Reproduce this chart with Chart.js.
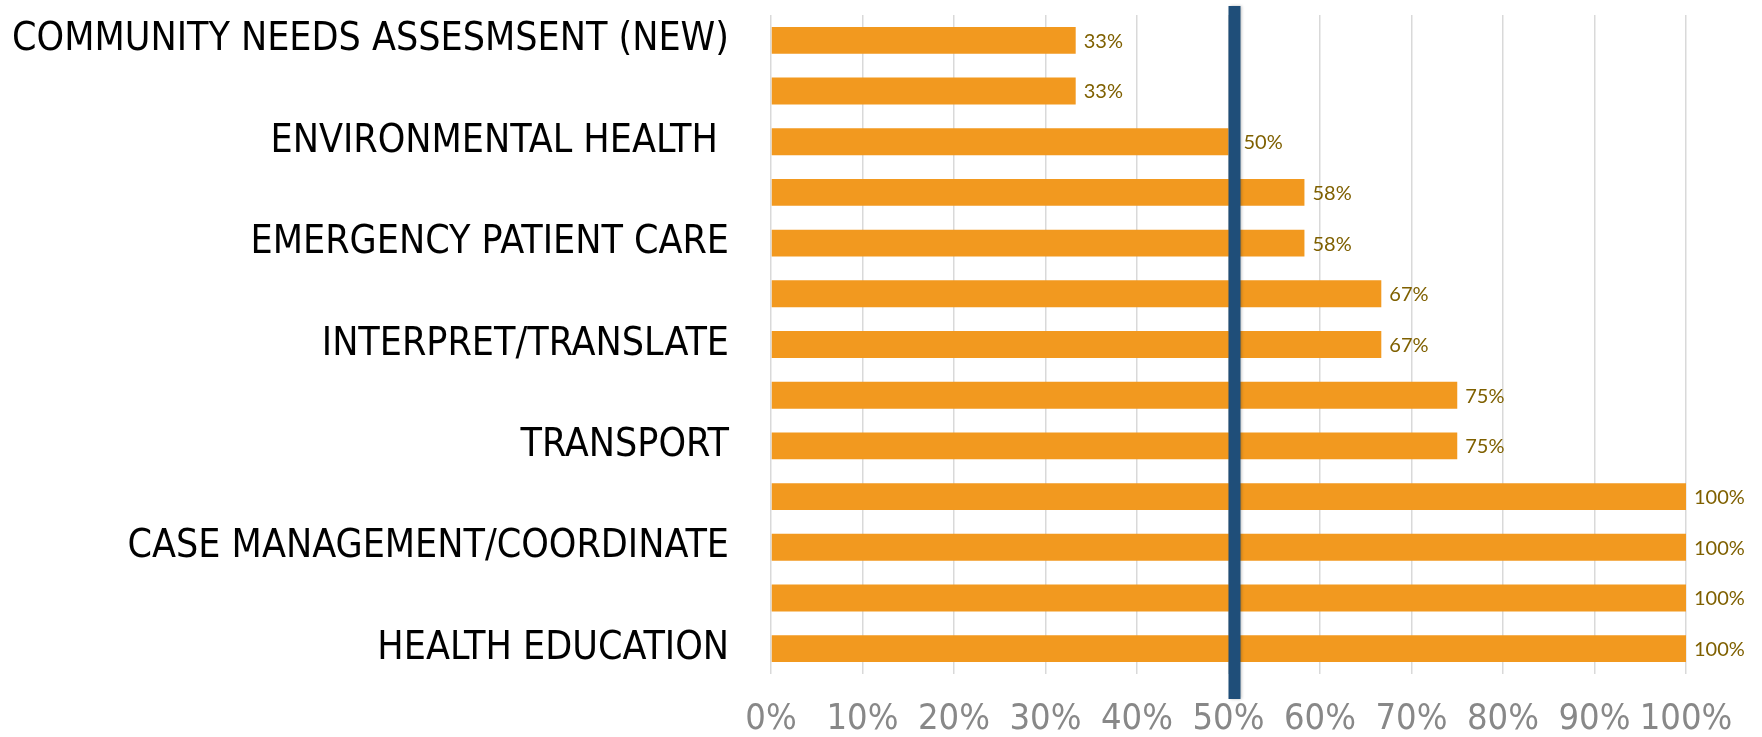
<!DOCTYPE html>
<html>
<head>
<meta charset="utf-8">
<script src="https://cdn.jsdelivr.net/npm/chart.js@4"></script>
<style>
   html, body { margin: 0; padding: 0; background: #ffffff; }
   #wrap { width: 1762px; height: 737px; }
</style>
</head>
<body>
<div id="wrap"><canvas id="serviceChart"></canvas></div>
<script>
// #region Data
// only every other category name is printed on the axis
const categories = [
   'COMMUNITY NEEDS ASSESMSENT (NEW)', '',
   'ENVIRONMENTAL HEALTH ', '',
   'EMERGENCY PATIENT CARE', '',
   'INTERPRET/TRANSLATE', '',
   'TRANSPORT', '',
   'CASE MANAGEMENT/COORDINATE', '',
   'HEALTH EDUCATION'
];
const percentValues = [33.3, 33.3, 50, 58.3, 58.3, 66.7, 66.7, 75, 75, 100, 100, 100, 100];
const xTickValues = [0, 10, 20, 30, 40, 50, 60, 70, 80, 90, 100];
const targetValue = 50;
// #endregion

const labelFont = "'Liberation Sans Narrow', 'DejaVu Sans Condensed', 'Arial Narrow', sans-serif";
const targetWidth = 12;

// ***********************
// Name:    valueLabels
// Purpose: writes the percent next to the end of every bar
// *************************
const valueLabels = {
   id: 'valueLabels',
   afterDatasetsDraw(chart) {
      const ctx = chart.ctx;
      const meta = chart.getDatasetMeta(0);
      const lineX = chart.scales.x.getPixelForValue(targetValue);
      ctx.save();
      ctx.font = '20px Lato, sans-serif';
      ctx.fillStyle = '#7f6000';
      ctx.textAlign = 'left';
      ctx.textBaseline = 'middle';
      meta.data.forEach(function (bar, i) {
         let x = bar.x + 8;
         // keep the label clear of the blue marker
         if (bar.x >= lineX - 2 && x < lineX + targetWidth + 3) {
            x = lineX + targetWidth + 3;
         }
         ctx.fillText(Math.round(percentValues[i]) + '%', x, bar.y + 1);
      });
      ctx.restore();
   }
};

// ***********************
// Name:    targetLine
// Purpose: draws the thick blue 50% marker over the bars
// *************************
const targetLine = {
   id: 'targetLine',
   afterDraw(chart) {
      const ctx = chart.ctx;
      const area = chart.chartArea;
      const x = chart.scales.x.getPixelForValue(targetValue);
      ctx.save();
      ctx.shadowColor = 'rgba(0,0,0,0.25)';
      ctx.shadowBlur = 3;
      ctx.shadowOffsetX = 1;
      ctx.fillStyle = '#1f4e79';
      ctx.fillRect(x, area.top - 9, targetWidth, area.bottom - area.top + 34);
      ctx.restore();
   }
};

const config = {
   type: 'bar',
   data: {
      labels: categories,
      datasets: [{
         data: percentValues,
         backgroundColor: '#f2991f',
         borderWidth: 0,
         barPercentage: 0.53,
         categoryPercentage: 1
      }]
   },
   options: {
      indexAxis: 'y',
      responsive: true,
      maintainAspectRatio: false,
      animation: false,
      layout: {
         padding: { top: 15, right: 76, left: 0, bottom: 0 }
      },
      plugins: {
         legend: { display: false },
         tooltip: { enabled: false }
      },
      scales: {
         x: {
            min: 0,
            max: 100,
            afterBuildTicks: function (scale) {
               scale.ticks = xTickValues.map(v => ({ value: v }));
            },
            afterFit: function (scale) {
               scale.height = 63;
               scale.paddingLeft = 0;
               scale.paddingRight = 0;
            },
            grid: {
               color: '#d9d9d9',
               lineWidth: 1.5,
               drawTicks: false
            },
            border: { display: false },
            ticks: {
               autoSkip: false,
               maxRotation: 0,
               minRotation: 0,
               padding: 24,
               color: '#888888',
               font: { family: labelFont, size: 36 },
               callback: v => v + '%'
            }
         },
         y: {
            afterFit: function (scale) {
               scale.width = 771;
               scale.paddingTop = 0;
               scale.paddingBottom = 0;
            },
            grid: { display: false },
            border: { display: false },
            ticks: {
               autoSkip: false,
               padding: 34,
               color: '#000000',
               font: { family: labelFont, size: 39 }
            }
         }
      }
   },
   plugins: [valueLabels, targetLine]
};

const serviceChart = new Chart(document.getElementById('serviceChart'), config);
</script>
</body>
</html>
